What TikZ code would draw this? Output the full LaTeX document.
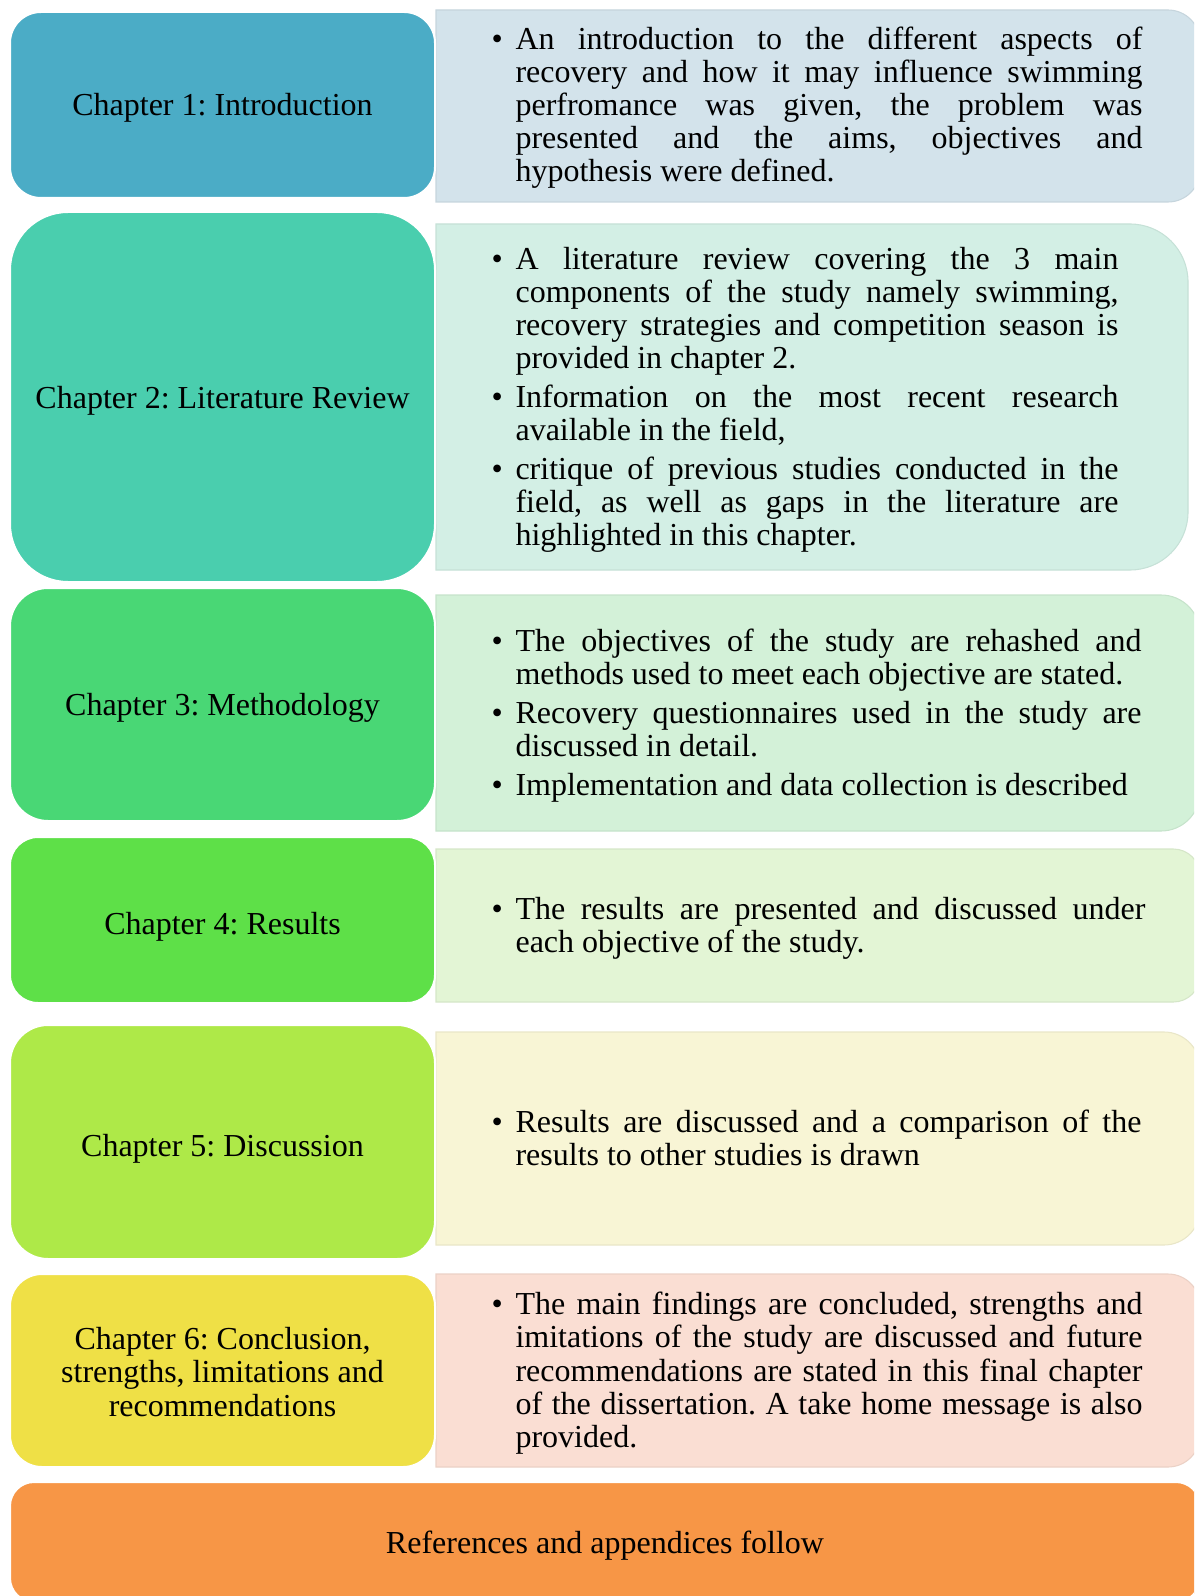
\documentclass[tikz,border=0pt]{standalone}
\usepackage{fontspec}
\setmainfont{Liberation Serif}
\usepackage{xcolor}
\usepackage{tikz}

\definecolor{chapA}{HTML}{4BACC6}
\definecolor{chapB}{HTML}{4ACEAE}
\definecolor{chapC}{HTML}{49D775}
\definecolor{chapD}{HTML}{5EE048}
\definecolor{chapE}{HTML}{AEE948}
\definecolor{chapF}{HTML}{EFE046}
\definecolor{refs}{HTML}{F79646}
\definecolor{infoA}{HTML}{D3E3EB}
\definecolor{infoB}{HTML}{D3EFE5}
\definecolor{infoC}{HTML}{D3F1D8}
\definecolor{infoD}{HTML}{E3F5D5}
\definecolor{infoE}{HTML}{F8F5D5}
\definecolor{infoF}{HTML}{FADED3}

\frenchspacing
\newcommand{\bpoint}[1]{\par\parskip=2.2pt\relax\tolerance=10000\relax
    \hangindent=9pt\hangafter=1\noindent\makebox[9pt][l]{\textbullet}\strut#1\strut\par}

\begin{document}
\begin{tikzpicture}[x=0.375pt, y=-0.375pt,
    chapbox/.style={fill=#1, draw=white, line width=0.75pt},
    infobox/.style={fill=#1, draw=#1!94!black, line width=0.4pt},
    chaptext/.style={inner sep=0pt, anchor=base, align=center, font=\fontsize{12}{12.6}\selectfont},
    bullets/.style={inner sep=0pt, anchor=west, text width=#1, align=justify,
        font=\fontsize{12}{12.4}\selectfont}]
    \useasboundingbox (0,0) rectangle (1194,1596);
    \clip (0,0) rectangle (1194,1596);
    % Chapter 1
    \draw[infobox=infoA] (436,10) [rounded corners=12pt] -- (1200,10) -- (1200,202) [sharp corners] -- (436,202) -- cycle;
    \draw[chapbox=chapA, rounded corners=11.6pt] (10,12) rectangle (435,198);
    \node[chaptext] (C1) at (222.5,116) {Chapter 1: Introduction};
    \node[bullets=244.1pt] (T1) at (491,101) {%
        \bpoint{An introduction to the different aspects of\linebreak recovery and how it may influence swimming\linebreak perfromance was given, the problem was\linebreak presented and the aims, objectives and\linebreak hypothesis were defined.}};
    % Chapter 2
    \draw[infobox=infoB] (436,224) [rounded corners=21.75pt] -- (1188,224) -- (1188,570) [sharp corners] -- (436,570) -- cycle;
    \draw[chapbox=chapB, rounded corners=21.75pt] (10,212) rectangle (435,582);
    \node[chaptext] (C2) at (222.5,408.5) {Chapter 2: Literature Review};
    \node[bullets=235.1pt] (T2) at (491,393) {%
        \bpoint{A literature review covering the 3 main\linebreak components of the study namely swimming,\linebreak recovery strategies and competition season is\linebreak provided in chapter 2.}
        \bpoint{Information on the most recent research\linebreak available in the field,}
        \bpoint{critique of previous studies conducted in the\linebreak field, as well as gaps in the literature are\linebreak highlighted in this chapter.}};
    % Chapter 3
    \draw[infobox=infoC] (436,595) [rounded corners=14.6pt] -- (1200,595) -- (1200,831) [sharp corners] -- (436,831) -- cycle;
    \draw[chapbox=chapC, rounded corners=14.25pt] (10,588) rectangle (435,821);
    \node[chaptext] (C3) at (222.5,715) {Chapter 3: Methodology};
    \node[bullets=243.75pt] (T3) at (491,709) {%
        \bpoint{The objectives of the study are rehashed and\linebreak methods used to meet each objective are stated.}
        \bpoint{Recovery questionnaires used in the study are\linebreak discussed in detail.}
        \bpoint{Implementation and data collection is described}};
    % Chapter 4
    \draw[infobox=infoD] (436,849) [rounded corners=10pt] -- (1200,849) -- (1200,1002) [sharp corners] -- (436,1002) -- cycle;
    \draw[chapbox=chapD, rounded corners=10.5pt] (10,837) rectangle (435,1003);
    \node[chaptext] (C4) at (222.5,934.5) {Chapter 4: Results};
    \node[bullets=245.25pt] (T4) at (491,921.5) {%
        \bpoint{The results are presented and discussed under\linebreak each objective of the study.}};
    % Chapter 5
    \draw[infobox=infoE] (436,1032) [rounded corners=13.5pt] -- (1200,1032) -- (1200,1245) [sharp corners] -- (436,1245) -- cycle;
    \draw[chapbox=chapE, rounded corners=14.25pt] (10,1025) rectangle (435,1259);
    \node[chaptext] (C5) at (222.5,1156) {Chapter 5: Discussion};
    \node[bullets=243.75pt] (T5) at (491,1134.5) {%
        \bpoint{Results are discussed and a comparison of the\linebreak results to other studies is drawn}};
    % Chapter 6
    \draw[infobox=infoF] (436,1274) [rounded corners=12pt] -- (1200,1274) -- (1200,1467) [sharp corners] -- (436,1467) -- cycle;
    \draw[chapbox=chapF, rounded corners=12pt] (10,1274) rectangle (435,1467);
    \node[chaptext, anchor=center] (C6) at (222.5,1372) {Chapter 6: Conclusion,\\ strengths, limitations and\\ recommendations};
    \node[bullets=244.1pt] (T6) at (491,1366.5) {%
        \bpoint{The main findings are concluded, strengths and\linebreak imitations of the study are discussed and future\linebreak recommendations are stated in this final chapter\linebreak of the dissertation. A take home message is also\linebreak provided.}};
    % References bar
    \draw[chapbox=refs, rounded corners=9pt] (10,1482) rectangle (1200,1602);
    \node[chaptext] (R) at (605,1553.5) {References and appendices follow};
\end{tikzpicture}
\end{document}
